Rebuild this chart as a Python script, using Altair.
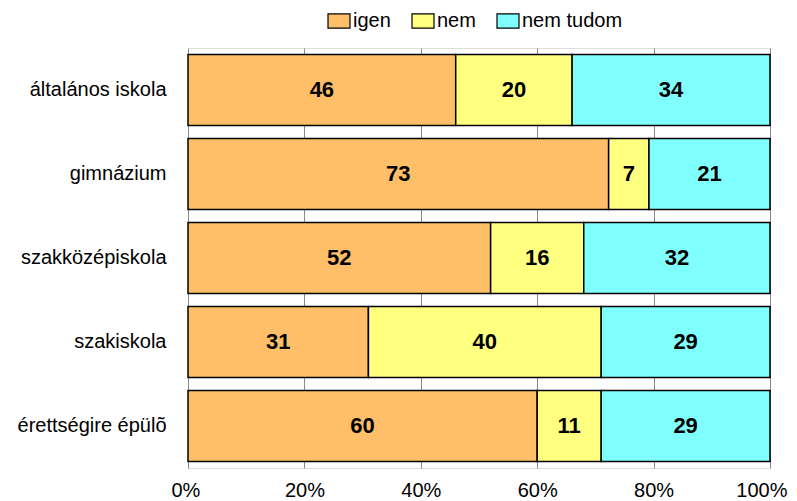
import altair as alt
import pandas as pd

categories = ["általános iskola", "gimnázium", "szakközépiskola", "szakiskola", "érettségire épülõ"]
series = ["igen", "nem", "nem tudom"]
igen = [46, 73, 52, 31, 60]
nem = [20, 7, 16, 40, 11]
nem_tudom = [34, 21, 32, 29, 29]
colors = ["#FFBF69", "#FFFF80", "#80FFFF"]

rows = []
for i, c in enumerate(categories):
    for j, (s, vals) in enumerate(zip(series, [igen, nem, nem_tudom])):
        rows.append({"cat": c, "series": s, "order": j, "value": vals[i]})
df = pd.DataFrame(rows)

base = alt.Chart(df).transform_stack(
    stack="value", groupby=["cat"], as_=["p0", "p1"], offset="normalize",
    sort=[alt.SortField("order")]
).transform_calculate(
    mid="(datum.p0+datum.p1)/2"
)

y_enc = alt.Y("cat:N", sort=categories, title=None,
              scale=alt.Scale(paddingInner=0.155, paddingOuter=0.0775),
              axis=alt.Axis(labelFont="Liberation Sans", labelFontSize=20, labelColor="black",
                            labelPadding=22, ticks=False, domain=False, grid=False))

bars = base.mark_bar(stroke="black", strokeWidth=1.5).encode(
    x=alt.X("p0:Q", title=None, scale=alt.Scale(domain=[0, 1], nice=False),
            axis=alt.Axis(format=".0%", values=[0, 0.2, 0.4, 0.6, 0.8, 1.0],
                          labelFont="Liberation Sans", labelFontSize=20, labelColor="black",
                          labelPadding=12, labelFlush=True, labelFlushOffset=17, labelOverlap=False,
                          ticks=False, domain=False,
                          grid=True, gridColor="#888888", gridWidth=1)),
    x2="p1:Q",
    y=y_enc,
    color=alt.Color("series:N", sort=series, title=None,
                    scale=alt.Scale(domain=series, range=colors),
                    legend=alt.Legend(orient="none", legendX=139, legendY=-39, direction="horizontal",
                                      symbolType="M-1,-0.64H1V0.64H-1Z", symbolSize=484,
                                      symbolStrokeColor="black", symbolStrokeWidth=1.2,
                                      labelFont="Liberation Sans", labelFontSize=20, labelColor="black",
                                      labelOffset=2, columnPadding=18)),
    order=alt.Order("order:Q"),
)

labels = base.mark_text(font="Liberation Sans", fontSize=22, fontWeight="bold", color="black").encode(
    x=alt.X("mid:Q"),
    y=alt.Y("cat:N", sort=categories),
    text=alt.Text("value:Q"),
)

chart = alt.layer(bars, labels).properties(
    width=582, height=420,
    autosize=alt.AutoSizeParams(type="none"),
    padding={"left": 180, "top": 40, "right": 19, "bottom": 32},
).configure_view(stroke="black", strokeWidth=2).configure(background="white")

chart.save("out.html", embed_options={"renderer": "svg", "actions": False})
